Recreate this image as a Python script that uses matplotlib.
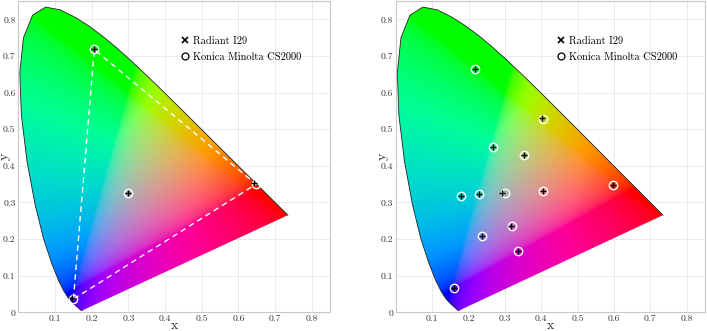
import numpy as np
import matplotlib
matplotlib.use("Agg")
import matplotlib.pyplot as plt
from matplotlib.patches import Polygon
from matplotlib.lines import Line2D

plt.rcParams['font.family'] = ['cmr10', 'DejaVu Serif']
plt.rcParams['axes.formatter.use_mathtext'] = True

# CIE 1931 spectral locus (380-700 nm)
locus_x = [0.1741, 0.1740, 0.1738, 0.1736, 0.1733, 0.1730, 0.1726, 0.1721, 0.1714, 0.1703,
           0.1689, 0.1669, 0.1644, 0.1611, 0.1566, 0.1510, 0.1440, 0.1355, 0.1241, 0.1096,
           0.0913, 0.0687, 0.0454, 0.0235, 0.0082, 0.0039, 0.0139, 0.0389, 0.0743, 0.1142,
           0.1547, 0.1929, 0.2296, 0.2658, 0.3016, 0.3373, 0.3731, 0.4087, 0.4441, 0.4788,
           0.5125, 0.5448, 0.5752, 0.6029, 0.6270, 0.6482, 0.6658, 0.6801, 0.6915, 0.7006,
           0.7079, 0.7140, 0.7190, 0.7230, 0.7260, 0.7283, 0.7300, 0.7311, 0.7320, 0.7334,
           0.7344, 0.7347]
locus_y = [0.0050, 0.0050, 0.0049, 0.0049, 0.0048, 0.0048, 0.0048, 0.0048, 0.0051, 0.0058,
           0.0069, 0.0086, 0.0109, 0.0138, 0.0177, 0.0227, 0.0297, 0.0399, 0.0578, 0.0868,
           0.1327, 0.2007, 0.2950, 0.4127, 0.5384, 0.6548, 0.7502, 0.8120, 0.8338, 0.8262,
           0.8059, 0.7816, 0.7543, 0.7243, 0.6923, 0.6589, 0.6245, 0.5896, 0.5547, 0.5202,
           0.4866, 0.4544, 0.4242, 0.3965, 0.3725, 0.3514, 0.3340, 0.3197, 0.3083, 0.2993,
           0.2920, 0.2859, 0.2809, 0.2770, 0.2740, 0.2717, 0.2700, 0.2689, 0.2680, 0.2666,
           0.2656, 0.2653]

# left panel: primaries + white
left_km_x = [0.150, 0.207, 0.648, 0.300]
left_km_y = [0.036, 0.718, 0.350, 0.325]
left_rad_x = [0.147, 0.206, 0.642, 0.300]
left_rad_y = [0.040, 0.718, 0.354, 0.325]
triangle_idx = [0, 1, 2, 0]

# right panel: test patches
right_km_x = [0.217, 0.404, 0.267, 0.353, 0.179, 0.229, 0.299, 0.404, 0.598, 0.320, 0.236, 0.336, 0.161]
right_km_y = [0.664, 0.529, 0.452, 0.429, 0.318, 0.322, 0.327, 0.332, 0.347, 0.237, 0.208, 0.167, 0.066]
right_rad_x = [0.217, 0.401, 0.267, 0.353, 0.179, 0.229, 0.291, 0.404, 0.598, 0.317, 0.236, 0.336, 0.161]
right_rad_y = [0.664, 0.531, 0.452, 0.429, 0.318, 0.322, 0.327, 0.332, 0.347, 0.237, 0.208, 0.167, 0.066]

ticks = [0.1, 0.2, 0.3, 0.4, 0.5, 0.6, 0.7, 0.8]


def chroma_image(n=500):
    g = np.linspace(0, 0.85, n)
    X, Y = np.meshgrid(g, g)
    Ys = np.maximum(Y, 1e-4)
    XYZ = np.stack([X / Ys, np.ones_like(X), (1 - X - Y) / Ys], axis=-1)
    M = np.array([[3.2406, -1.5372, -0.4986],
                  [-0.9689, 1.8758, 0.0415],
                  [0.0557, -0.2040, 1.0570]])
    rgb = XYZ @ M.T
    rgb = np.clip(rgb, 0, None)
    norm = np.maximum(rgb.sum(axis=-1, keepdims=True) / 1.3, rgb.max(axis=-1, keepdims=True))
    rgb = rgb / np.maximum(norm, 1e-9)
    rgb = np.where(rgb <= 0.0031308, 12.92 * rgb, 1.055 * rgb ** (1 / 2.4) - 0.055)
    return np.clip(rgb, 0, 1)


img = chroma_image()

fig = plt.figure(figsize=(7.07, 3.31), dpi=100)
ax1 = fig.add_axes([0.026, 0.0565, 0.441, 0.94])
ax2 = fig.add_axes([0.560, 0.0565, 0.437, 0.94])

for ax in (ax1, ax2):
    poly = Polygon(np.column_stack([locus_x, locus_y]), closed=True, facecolor='none', edgecolor='none')
    ax.add_patch(poly)
    im = ax.imshow(img, origin='lower', extent=(0, 0.85, 0, 0.85), interpolation='bilinear', zorder=1)
    im.set_clip_path(poly)
    ax.plot(locus_x, locus_y, color='#222222', lw=0.6, zorder=2)
    ax.set_xlim(0, 0.85)
    ax.set_ylim(0, 0.85)
    ax.set_aspect('auto')
    ax.set_xticks(ticks)
    ax.set_yticks([0] + ticks)
    ax.set_xticklabels([str(t) for t in ticks])
    ax.set_yticklabels(['0'] + [str(t) for t in ticks])
    ax.tick_params(length=0, labelsize=7, pad=2, colors='#333333')
    ax.grid(True, color='#e8e8e8', lw=0.6, zorder=0)
    ax.set_axisbelow(True)
    for s in ax.spines.values():
        s.set_color('#c8c8c8')
        s.set_linewidth(0.8)
    ax.set_xlabel('x', fontsize=10, color='#333333')
    ax.set_ylabel('y', fontsize=10, color='#333333')
    ax.xaxis.set_label_coords(0.5, -0.026)
    ax.yaxis.set_label_coords(-0.024, 0.5)

# left: gamut triangle
ax1.plot([left_km_x[i] for i in triangle_idx], [left_km_y[i] for i in triangle_idx],
         color='white', lw=1.0, ls=(0, (4, 3)), zorder=3)
ax1.plot(left_km_x, left_km_y, 'o', mfc='none', mec='white', ms=6, mew=1.0, zorder=4)
ax1.plot(left_rad_x, left_rad_y, '+', color='black', ms=5, mew=1.0, zorder=5)

ax2.plot(right_km_x, right_km_y, 'o', mfc='none', mec='white', ms=6, mew=1.0, zorder=4)
ax2.plot(right_rad_x, right_rad_y, '+', color='black', ms=5, mew=1.0, zorder=5)

handles = [Line2D([], [], ls='none', marker='x', color='black', ms=4.5, mew=1.2),
           Line2D([], [], ls='none', marker='o', mfc='none', mec='black', ms=5, mew=0.9)]
for ax in (ax1, ax2):
    ax.legend(handles, ['Radiant I29', 'Konica Minolta CS2000'], loc='upper left',
              bbox_to_anchor=(0.51, 0.9), frameon=False, fontsize=7.5,
              handlelength=0.6, handletextpad=0.5, labelspacing=0.6, borderaxespad=0)

fig.savefig('out.png', dpi=100)
